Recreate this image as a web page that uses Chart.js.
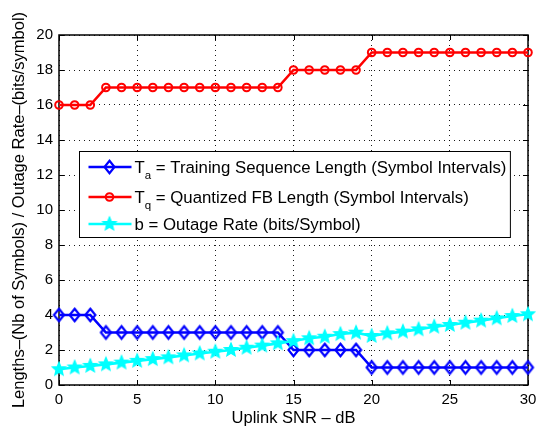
<!DOCTYPE html>
<html>
<head>
<meta charset="utf-8">
<script src="https://cdn.jsdelivr.net/npm/chart.js@4.4.0/dist/chart.umd.min.js"></script>
<style>
    html, body { margin: 0; padding: 0; background: #fff; }
    #wrap { width: 546px; height: 431px; }
</style>
</head>
<body>
<div id="wrap"><canvas id="c" width="546" height="431"></canvas></div>
<script>
(() => {
    'use strict';

    // data
    const snrDb = [0, 1, 2, 3, 4, 5, 6, 7, 8, 9, 10, 11, 12, 13, 14, 15,
        16, 17, 18, 19, 20, 21, 22, 23, 24, 25, 26, 27, 28, 29, 30];
    const trainingLen = [4, 4, 4, 3, 3, 3, 3, 3, 3, 3, 3, 3, 3, 3, 3, 2,
        2, 2, 2, 2, 1, 1, 1, 1, 1, 1, 1, 1, 1, 1, 1];
    const fbLen = [16, 16, 16, 17, 17, 17, 17, 17, 17, 17, 17, 17, 17, 17, 17, 18,
        18, 18, 18, 18, 19, 19, 19, 19, 19, 19, 19, 19, 19, 19, 19];
    const outageRate = [0.90, 1.00, 1.09, 1.18, 1.28, 1.38, 1.48, 1.58, 1.69, 1.80, 1.90,
        2.00, 2.13, 2.25, 2.38, 2.51, 2.67, 2.76, 2.91, 2.99, 2.80,
        2.95, 3.05, 3.18, 3.33, 3.43, 3.56, 3.68, 3.81, 3.94, 4.04];

    const xTicks = [0, 5, 10, 15, 20, 25, 30];
    const yTicks = [0, 2, 4, 6, 8, 10, 12, 14, 16, 18, 20];

    const legendItems = [
        { main: 'T', sub: 'a', rest: ' = Training Sequence Length (Symbol Intervals)' },
        { main: 'T', sub: 'q', rest: ' = Quantized FB Length (Symbol Intervals)' },
        { main: 'b', sub: '', rest: ' = Outage Rate (bits/Symbol)' }
    ];

    const FONT = '"Liberation Sans", Arial, Helvetica, sans-serif';

    // marker images
    function makeStar(r, color) {
        const s = Math.ceil(r * 2 + 4);
        const c = document.createElement('canvas');
        c.width = c.height = s;
        const g = c.getContext('2d');
        g.translate(s / 2, s / 2);
        g.beginPath();
        for (let i = 0; i < 10; i++) {
            const rad = i % 2 ? r * 0.45 : r;
            const a = -Math.PI / 2 + i * Math.PI / 5;
            g.lineTo(rad * Math.cos(a), rad * Math.sin(a));
        }
        g.closePath();
        g.fillStyle = color;
        g.fill();
        g.lineWidth = 1.2;
        g.strokeStyle = color;
        g.stroke();
        return c;
    }

    function makeDiamond(hw, hh, color) {
        const c = document.createElement('canvas');
        c.width = Math.ceil(hw * 2 + 5);
        c.height = Math.ceil(hh * 2 + 5);
        const g = c.getContext('2d');
        g.translate(c.width / 2, c.height / 2);
        g.beginPath();
        g.moveTo(0, -hh);
        g.lineTo(hw, 0);
        g.lineTo(0, hh);
        g.lineTo(-hw, 0);
        g.closePath();
        g.lineWidth = 2.2;
        g.strokeStyle = color;
        g.stroke();
        return c;
    }

    const starImg = makeStar(7, '#00ffff');
    const diamondImg = makeDiamond(5, 6.3, '#0000ff');

    const toXY = ys => snrDb.map((x, i) => ({ x, y: ys[i] }));

    // frame + inward ticks (matlab style box)
    const boxFrame = {
        id: 'boxFrame',
        beforeDatasetsDraw(chart) {
            const { ctx, chartArea: a, scales: { x, y } } = chart;
            ctx.save();
            ctx.strokeStyle = '#000';
            ctx.lineWidth = 1.5;
            ctx.strokeRect(a.left, a.top, a.right - a.left, a.bottom - a.top);
            ctx.lineWidth = 1;
            ctx.beginPath();
            xTicks.forEach(v => {
                const px = Math.round(x.getPixelForValue(v)) + 0.5;
                ctx.moveTo(px, a.bottom); ctx.lineTo(px, a.bottom - 5);
                ctx.moveTo(px, a.top); ctx.lineTo(px, a.top + 5);
            });
            yTicks.forEach(v => {
                const py = Math.round(y.getPixelForValue(v)) + 0.5;
                ctx.moveTo(a.left, py); ctx.lineTo(a.left + 5, py);
                ctx.moveTo(a.right, py); ctx.lineTo(a.right - 5, py);
            });
            ctx.stroke();
            ctx.restore();
        }
    };

    // boxed legend with subscripts
    const boxLegend = {
        id: 'boxLegend',
        afterDraw(chart) {
            const { ctx, chartArea: a } = chart;
            const mainFont = '16.8px ' + FONT;
            const subFont = '11.5px ' + FONT;
            const left = Math.round(a.left + 20) + 0.5;
            const top = Math.round(a.top + 116) + 0.5;
            const rows = [21, 51, 78];

            ctx.save();
            const widths = legendItems.map(it => {
                ctx.font = mainFont;
                let w = ctx.measureText(it.main + it.rest).width;
                ctx.font = subFont;
                return w + ctx.measureText(it.sub).width;
            });
            const w = 55 + Math.max(...widths) + 4;
            const h = 86;
            ctx.fillStyle = '#fff';
            ctx.fillRect(left, top, w, h);
            ctx.strokeStyle = '#000';
            ctx.lineWidth = 1;
            ctx.strokeRect(left, top, w, h);

            chart.data.datasets.forEach((ds, i) => {
                const base = top + rows[i];
                const ly = base - 5.5;
                ctx.strokeStyle = ds.borderColor;
                ctx.lineWidth = ds.borderWidth;
                ctx.beginPath();
                ctx.moveTo(left + 9, ly);
                ctx.lineTo(left + 52, ly);
                ctx.stroke();
                const mx = left + 30;
                if (ds.pointStyle === 'circle') {
                    ctx.lineWidth = ds.pointBorderWidth;
                    ctx.beginPath();
                    ctx.arc(mx, ly, ds.pointRadius, 0, Math.PI * 2);
                    ctx.stroke();
                } else {
                    const img = ds.pointStyle;
                    ctx.drawImage(img, mx - img.width / 2, ly - img.height / 2);
                }

                const it = legendItems[i];
                ctx.fillStyle = '#000';
                ctx.textBaseline = 'alphabetic';
                let tx = left + 55;
                ctx.font = mainFont;
                ctx.fillText(it.main, tx, base);
                tx += ctx.measureText(it.main).width;
                if (it.sub) {
                    ctx.font = subFont;
                    ctx.fillText(it.sub, tx, base + 6);
                    tx += ctx.measureText(it.sub).width;
                }
                ctx.font = mainFont;
                ctx.fillText(it.rest, tx, base);
            });
            ctx.restore();
        }
    };

    const gridCommon = {
        color: 'rgba(0,0,0,0.9)',
        lineWidth: 1,
        drawTicks: false
    };

    new Chart(document.getElementById('c'), {
        type: 'line',
        data: {
            datasets: [
                {
                    label: 'Ta = Training Sequence Length (Symbol Intervals)',
                    data: toXY(trainingLen),
                    borderColor: '#0000ff',
                    borderWidth: 2.6,
                    pointStyle: diamondImg,
                    pointRadius: 6,
                    clip: false,
                    order: 2
                },
                {
                    label: 'Tq = Quantized FB Length (Symbol Intervals)',
                    data: toXY(fbLen),
                    borderColor: '#ff0000',
                    borderWidth: 2.6,
                    pointStyle: 'circle',
                    pointRadius: 3.8,
                    pointBorderWidth: 2,
                    pointBorderColor: '#ff0000',
                    pointBackgroundColor: 'rgba(0,0,0,0)',
                    clip: false,
                    order: 1
                },
                {
                    label: 'b = Outage Rate (bits/Symbol)',
                    data: toXY(outageRate),
                    borderColor: '#00ffff',
                    borderWidth: 2.6,
                    pointStyle: starImg,
                    pointRadius: 7,
                    clip: false,
                    order: 0
                }
            ]
        },
        options: {
            responsive: false,
            animation: false,
            devicePixelRatio: 1,
            layout: { padding: { top: 35, right: 18, left: 0, bottom: 0 } },
            plugins: {
                legend: { display: false },
                tooltip: { enabled: false }
            },
            elements: { line: { tension: 0 } },
            scales: {
                x: {
                    type: 'linear',
                    min: 0,
                    max: 30,
                    afterBuildTicks: s => { s.ticks = xTicks.map(v => ({ value: v })); },
                    afterFit: s => { s.height = 46; s.paddingLeft = 0; s.paddingRight = 0; },
                    grid: gridCommon,
                    border: { display: false, dash: [1, 4] },
                    ticks: {
                        color: '#000',
                        padding: 6,
                        maxRotation: 0,
                        font: { family: FONT, size: 15 }
                    },
                    title: {
                        display: true,
                        text: 'Uplink SNR \u2013 dB',
                        color: '#000',
                        font: { family: FONT, size: 16.5 },
                        padding: { top: 0, bottom: 3 }
                    }
                },
                y: {
                    min: 0,
                    max: 20,
                    afterBuildTicks: s => { s.ticks = yTicks.map(v => ({ value: v })); },
                    afterFit: s => { s.width = 59; s.paddingTop = 0; s.paddingBottom = 0; },
                    grid: gridCommon,
                    border: { display: false, dash: [1, 4] },
                    ticks: {
                        color: '#000',
                        padding: 6,
                        font: { family: FONT, size: 15 }
                    },
                    title: {
                        display: true,
                        text: 'Lengths\u2013(Nb of Symbols) / Outage Rate\u2013(bits/symbol)',
                        color: '#000',
                        font: { family: FONT, size: 16.5 },
                        padding: { top: 10, bottom: 0 }
                    }
                }
            }
        },
        plugins: [boxFrame, boxLegend]
    });
})();
</script>
</body>
</html>
